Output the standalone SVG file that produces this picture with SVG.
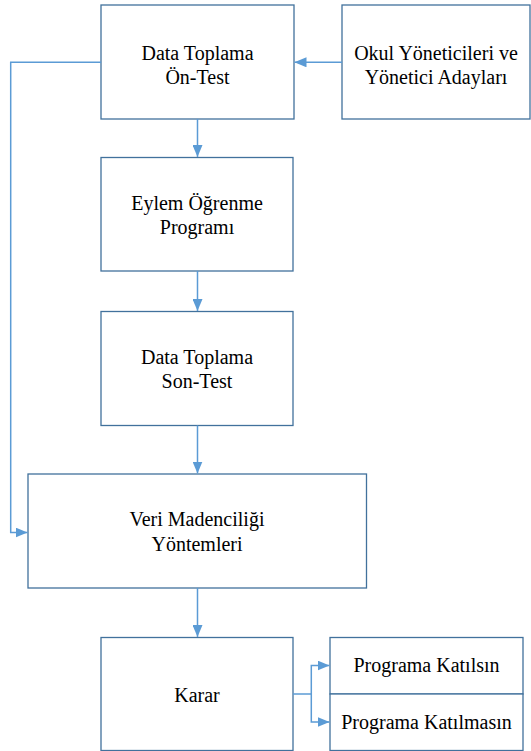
<svg xmlns="http://www.w3.org/2000/svg" width="531" height="751" viewBox="0 0 531 751">
<style>
.box{fill:#fff;stroke:#41719C;stroke-width:1.3}
.lbl{font-family:"Liberation Serif","Times New Roman",serif;font-size:20px;fill:#000;text-anchor:middle}
.con{fill:none;stroke:#5B9BD5;stroke-width:1.5}
</style>
<defs>
<marker id="ah" markerUnits="userSpaceOnUse" markerWidth="12" markerHeight="10" refX="12" refY="5" orient="auto">
<path d="M0,0 L12,5 L0,10 Z" fill="#5B9BD5"/>
</marker>
</defs>
<rect width="531" height="751" fill="#fff"/>
<g id="n1"><rect class="box" x="101" y="5" width="193" height="114"/>
<text class="lbl" x="197.5" y="59.5">Data Toplama</text><text class="lbl" x="197.5" y="84">Ön-Test</text></g>
<g id="n2"><rect class="box" x="342" y="5" width="188" height="114"/>
<text class="lbl" x="436" y="59.5">Okul Yöneticileri ve</text><text class="lbl" x="436" y="84">Yönetici Adayları</text></g>
<g id="n3"><rect class="box" x="101" y="157.5" width="192" height="113.5"/>
<text class="lbl" x="197" y="209.5">Eylem Öğrenme</text><text class="lbl" x="197" y="234">Programı</text></g>
<g id="n4"><rect class="box" x="101" y="311.5" width="192" height="114"/>
<text class="lbl" x="197" y="363.5">Data Toplama</text><text class="lbl" x="197" y="388">Son-Test</text></g>
<g id="n5"><rect class="box" x="28" y="474" width="338.5" height="114"/>
<text class="lbl" x="197" y="526">Veri Madenciliği</text><text class="lbl" x="197" y="550.5">Yöntemleri</text></g>
<g id="n6"><rect class="box" x="101" y="637.5" width="192" height="113"/>
<text class="lbl" x="197" y="701.5">Karar</text></g>
<g id="n7"><rect class="box" x="330" y="637.5" width="193" height="56.5"/>
<text class="lbl" x="426.5" y="672">Programa Katılsın</text></g>
<g id="n8"><rect class="box" x="330" y="694" width="193" height="56.5"/>
<text class="lbl" x="426.5" y="729">Programa Katılmasın</text></g>
<g id="connectors">
<path class="con" d="M342,62.3 H294.5" marker-end="url(#ah)"/>
<path class="con" d="M197.5,119 V157" marker-end="url(#ah)"/>
<path class="con" d="M197.5,271 V311" marker-end="url(#ah)"/>
<path class="con" d="M197.5,425.5 V473.5" marker-end="url(#ah)"/>
<path class="con" d="M101,62.3 H10.7 V532.5 H27.5" marker-end="url(#ah)"/>
<path class="con" d="M197.5,588 V637" marker-end="url(#ah)"/>
<path class="con" d="M293,694 H311.3"/>
<path class="con" d="M311.3,694 V665.5 H329.5" marker-end="url(#ah)"/>
<path class="con" d="M311.3,694 V722 H329.5" marker-end="url(#ah)"/>
</g>
</svg>
